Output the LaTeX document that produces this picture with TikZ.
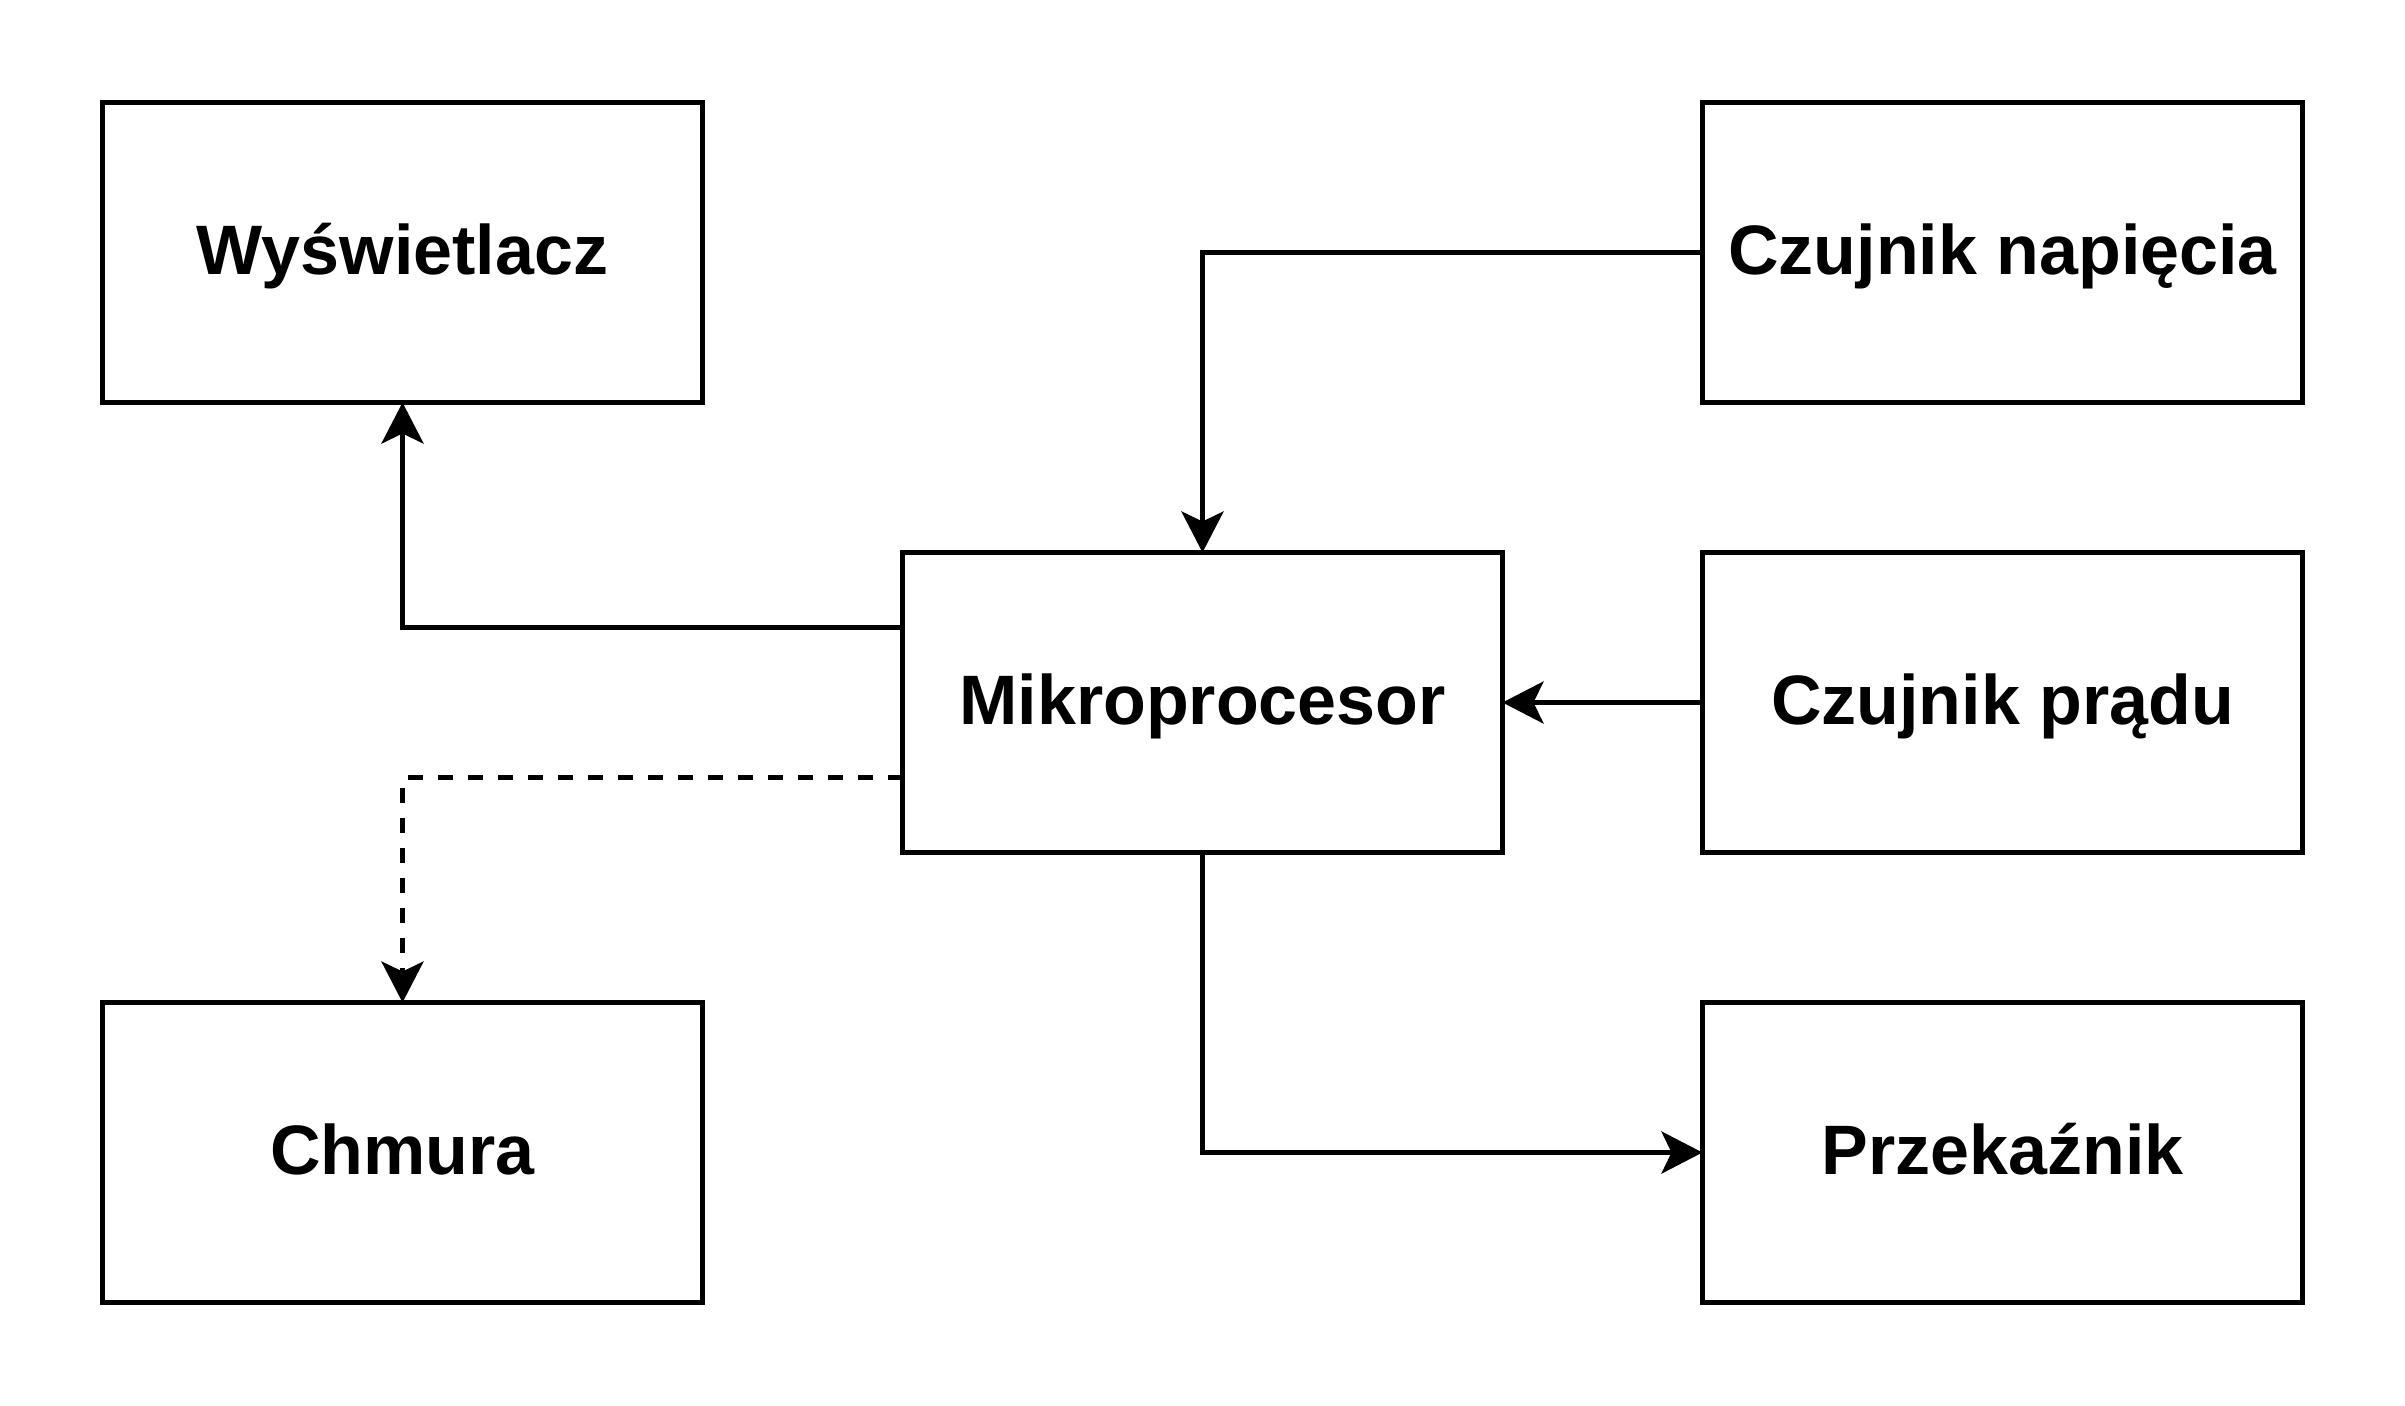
\documentclass[tikz,border=0pt]{standalone}
\usepackage{fontspec}
\setmainfont{Liberation Sans}
\usetikzlibrary{arrows.meta,calc}
\begin{document}
\begin{tikzpicture}[x=0.5pt,y=-0.5pt,
  blockbox/.style={draw=black, line width=2.5pt, rectangle, outer sep=0pt,
    minimum width=300pt, minimum height=150pt, inner sep=0pt,
    text height=22pt, text depth=0pt,
    font=\fontsize{35pt}{42pt}\selectfont\bfseries},
  conn/.style={draw=black, line width=2.5pt,
    -{Stealth[length=20.5pt,width=21pt,inset=5pt]}},
  dashconn/.style={conn, dash pattern=on 7.5pt off 7.5pt}]
\useasboundingbox[fill=white] (0,0) rectangle (2405,1405);
\node[blockbox] (wys) at (402.5,252.5) {Wyświetlacz};
\node[blockbox] (chm) at (402.5,1152.5) {Chmura};
\node[blockbox] (mp)  at (1202.5,702.5) {Mikroprocesor};
\node[blockbox] (cn)  at (2002.5,252.5) {Czujnik napięcia};
\node[blockbox] (cp)  at (2002.5,702.5) {Czujnik prądu};
\node[blockbox] (prz) at (2002.5,1152.5) {Przekaźnik};
\coordinate (mpa) at ($(mp.west)+(0,-75)$);
\coordinate (mpb) at ($(mp.west)+(0,75)$);
\draw[conn] (mpa) -| (wys.south);
\draw[dashconn] (mpb) -| (chm.north);
\draw[conn] (cn.west) -| (mp.north);
\draw[conn] (cp.west) -- (mp.east);
\draw[conn] (mp.south) |- (prz.west);
\end{tikzpicture}
\end{document}
